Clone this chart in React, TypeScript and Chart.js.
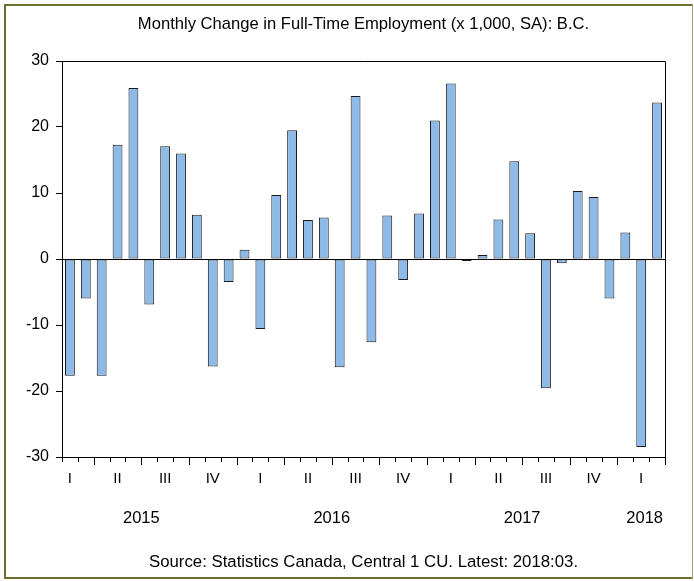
import { useEffect, useRef } from "react";
import { Chart, registerables } from "chart.js";

Chart.register(...registerables);

const TITLE = "Monthly Change in Full-Time Employment (x 1,000, SA): B.C.";
const SOURCE = "Source: Statistics Canada, Central 1 CU. Latest: 2018:03.";

const categories = [
  "2015:02", "2015:03", "2015:04", "2015:05", "2015:06", "2015:07", "2015:08", "2015:09", "2015:10", "2015:11", "2015:12",
  "2016:01", "2016:02", "2016:03", "2016:04", "2016:05", "2016:06", "2016:07", "2016:08", "2016:09", "2016:10", "2016:11", "2016:12",
  "2017:01", "2017:02", "2017:03", "2017:04", "2017:05", "2017:06", "2017:07", "2017:08", "2017:09", "2017:10", "2017:11", "2017:12",
  "2018:01", "2018:02", "2018:03",
];

const changes = [
  -17.7, -6.0, -17.7, 17.3, 25.9, -6.9, 17.1, 16.0, 6.7, -16.3, -3.5,
  1.4, -10.6, 9.7, 19.5, 5.9, 6.3, -16.4, 24.7, -12.6, 6.6, -3.2, 6.9,
  21.0, 26.6, -0.3, 0.6, 6.0, 14.8, 3.9, -19.6, -0.65, 10.3, 9.4, -6.0,
  4.0, -28.5, 23.7,
];

const quarterNames = ["I", "II", "III", "IV"];
const yearLabels = ["2015", "2016", "2017", "2018"];
const yMin = -30;
const yMax = 30;
const yStep = 10;

const FONT = '"Liberation Sans", Arial, sans-serif';
const BAR_FILL = "#8DBAE6";
const FRAME = "#6E6E30";

const monthOf = (c: string) => parseInt(c.slice(5), 10);

const decorPlugin = {
  id: "decor",
  beforeDraw(chart: any) {
    const ctx = chart.ctx;
    ctx.save();
    ctx.fillStyle = "#ffffff";
    ctx.fillRect(0, 0, chart.width, chart.height);
    ctx.restore();
  },
  afterDraw(chart: any) {
    const ctx = chart.ctx;
    const area = chart.chartArea;
    const xs = chart.scales.x;
    ctx.save();
    // frame
    ctx.fillStyle = FRAME;
    ctx.fillRect(4, 4, 689, 2);
    ctx.fillRect(4, 4, 2, 575);
    ctx.fillRect(4, 577, 689, 2);
    ctx.fillStyle = "#A0A07A";
    ctx.fillRect(692, 4, 1, 575);

    // plot box
    ctx.strokeStyle = "#000";
    ctx.lineWidth = 1;
    ctx.beginPath();
    ctx.moveTo(area.left, Math.round(area.top) + 0.5);
    ctx.lineTo(area.right + 0.5, Math.round(area.top) + 0.5);
    ctx.lineTo(area.right + 0.5, Math.round(area.bottom) + 0.5);
    ctx.lineTo(area.left, Math.round(area.bottom) + 0.5);
    ctx.stroke();

    // month ticks
    const n = categories.length;
    const step = n > 1 ? xs.getPixelForValue(1) - xs.getPixelForValue(0) : 0;
    for (let k = 0; k <= n; k++) {
      const x = Math.round(xs.getPixelForValue(0) - step / 2 + k * step) + 0.5;
      const idx = Math.min(k, n - 1);
      let month = monthOf(categories[idx]);
      if (k === n) month = (month % 12) + 1;
      const long = (month - 1) % 3 === 0;
      ctx.beginPath();
      ctx.moveTo(x, Math.round(area.bottom));
      ctx.lineTo(x, Math.round(area.bottom) + (long ? 8 : 5));
      ctx.stroke();
    }

    // year labels
    ctx.fillStyle = "#000";
    ctx.font = `16.5px ${FONT}`;
    ctx.textAlign = "center";
    ctx.textBaseline = "alphabetic";
    yearLabels.forEach((yr) => {
      const first = categories.findIndex((c) => c.startsWith(yr));
      if (first < 0) return;
      const firstMonth = monthOf(categories[first]);
      const janBoundary = xs.getPixelForValue(first) - step / 2 - (firstMonth - 1) * step;
      let x = janBoundary + 6 * step;
      const w = ctx.measureText(yr).width;
      x = Math.min(x, area.right - w / 2 - 2);
      ctx.fillText(yr, x, 523);
    });

    // title and source
    const cx = (area.left + area.right) / 2;
    ctx.font = `16.6px ${FONT}`;
    ctx.fillText(TITLE, cx, 29);
    ctx.font = `16.8px ${FONT}`;
    ctx.fillText(SOURCE, cx, 567);
    ctx.restore();
  },
};

export default function App() {
  const ref = useRef<HTMLCanvasElement | null>(null);

  useEffect(() => {
    document.body.style.margin = "0";
    const canvas = ref.current;
    if (!canvas) return;
    const chart = new Chart(canvas, {
      type: "bar",
      data: {
        labels: categories,
        datasets: [
          {
            data: changes,
            backgroundColor: BAR_FILL,
            borderColor: "#1a1a1a",
            borderWidth: 1,
            borderSkipped: false,
            barPercentage: 0.62,
            categoryPercentage: 1,
          },
        ],
      },
      options: {
        responsive: false,
        animation: false,
        devicePixelRatio: 1,
        layout: { padding: { left: 0, top: 61, right: 29, bottom: 0 } },
        plugins: {
          legend: { display: false },
          title: { display: false },
          tooltip: { enabled: false },
        },
        scales: {
          x: {
            type: "category",
            offset: true,
            grid: { display: false, drawTicks: false },
            border: { display: false },
            ticks: {
              autoSkip: false,
              maxRotation: 0,
              minRotation: 0,
              padding: 13,
              color: "#000",
              font: { family: FONT, size: 15 },
              callback: (_v: any, i: number) => {
                const m = monthOf(categories[i]);
                return (m - 1) % 3 === 1 ? quarterNames[Math.floor((m - 1) / 3)] : "";
              },
            },
            afterFit: (s: any) => {
              s.height = 124;
            },
          },
          y: {
            min: yMin,
            max: yMax,
            ticks: {
              stepSize: yStep,
              padding: 7,
              color: "#000",
              font: { family: FONT, size: 16 },
            },
            grid: {
              drawOnChartArea: true,
              drawTicks: true,
              tickLength: 6,
              tickColor: "#000",
              color: (c: any) => (c.tick && c.tick.value === 0 ? "#000" : "rgba(0,0,0,0)"),
            },
            border: { display: true, color: "#000" },
            afterFit: (s: any) => {
              s.width = 62;
            },
          },
        },
      },
      plugins: [decorPlugin],
    } as any);
    return () => chart.destroy();
  }, []);

  return <canvas ref={ref} width={694} height={581} style={{ display: "block" }} />;
}
